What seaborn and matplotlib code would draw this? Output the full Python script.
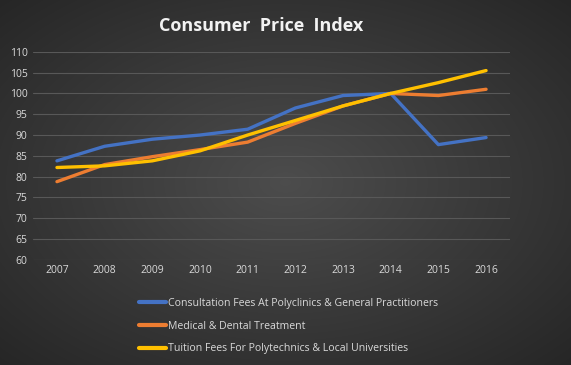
import numpy as np
import pandas as pd
import matplotlib
matplotlib.use("Agg")
import matplotlib.pyplot as plt
import seaborn as sns

years = [2007, 2008, 2009, 2010, 2011, 2012, 2013, 2014, 2015, 2016]
consultation = [83.8, 87.3, 89.0, 90.0, 91.4, 96.5, 99.5, 100.0, 87.7, 89.4]
medical = [78.8, 82.9, 84.8, 86.5, 88.3, 92.8, 97.0, 100.0, 99.5, 101.0]
tuition = [82.2, 82.6, 83.8, 86.2, 90.0, 93.5, 97.0, 100.0, 102.6, 105.5]

series_names = [
    "Consultation Fees At Polyclinics & General Practitioners",
    "Medical & Dental Treatment",
    "Tuition Fees For Polytechnics & Local Universities",
]
colors = ["#4472C4", "#ED7D31", "#FFC000"]
y_ticks = list(range(60, 111, 5))

df = pd.concat([
    pd.DataFrame({"year": years, "value": vals, "series": name})
    for name, vals in zip(series_names, [consultation, medical, tuition])
])

sns.set_style("dark")
plt.rcParams["font.family"] = ["Open Sans", "DejaVu Sans"]
text_col = "#D9D9D9"

fig = plt.figure(figsize=(5.71, 3.65), dpi=100)

# radial gradient background
bg = fig.add_axes([0, 0, 1, 1], zorder=-10)
gx, gy = np.meshgrid(np.linspace(-1, 1, 571), np.linspace(-1, 1, 365))
r = np.clip(np.sqrt(gx ** 2 + gy ** 2) / np.sqrt(2), 0, 1)
shade = 0.30 - 0.15 * r
bg.imshow(np.dstack([shade, shade, shade]), aspect="auto", extent=[0, 1, 0, 1])
bg.axis("off")

ax = fig.add_axes([0.058, 0.288, 0.835, 0.570])
ax.set_facecolor("none")
sns.lineplot(data=df, x="year", y="value", hue="series", palette=colors,
             linewidth=2.4, ax=ax, legend=False)

ax.set_xlim(2006.5, 2016.5)
ax.set_ylim(60, 110)
ax.set_yticks(y_ticks)
ax.set_xticks(years)
ax.set_xlabel("")
ax.set_ylabel("")
ax.grid(axis="y", color="#585858", linewidth=0.8)
ax.grid(axis="x", visible=False)
for s in ax.spines.values():
    s.set_visible(False)
ax.tick_params(colors=text_col, labelsize=7.5, length=0, pad=4)

fig.text(0.457, 0.93, "Consumer  Price  Index", ha="center", va="center",
         color="#F2F2F2", fontsize=13, fontweight="bold")

handles = [plt.Line2D([], [], color=c, linewidth=3) for c in colors]
leg = fig.legend(handles, series_names, loc="upper left",
                 bbox_to_anchor=(0.236, 0.195), frameon=False,
                 fontsize=7.6, handlelength=2.6, handletextpad=0.15,
                 labelspacing=1.1, borderaxespad=0)
for t in leg.get_texts():
    t.set_color(text_col)

fig.savefig("out.png", dpi=100)
